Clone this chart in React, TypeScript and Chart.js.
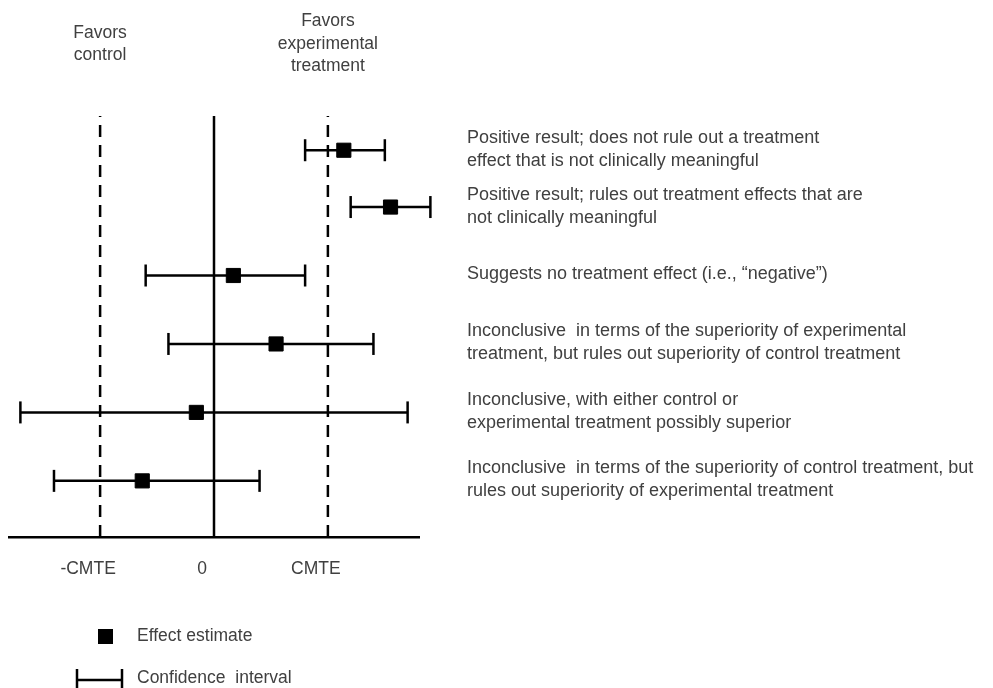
import { useEffect, useRef } from 'react';
import { Chart, registerables } from 'chart.js';

Chart.register(...registerables);

// ---- data ----
const outcomeLabels: string[][] = [
  ['Positive result; does not rule out a treatment', 'effect that is not clinically meaningful'],
  ['Positive result; rules out treatment effects that are', 'not clinically meaningful'],
  ['Suggests no treatment effect (i.e., \u201cnegative\u201d)'],
  ['Inconclusive  in terms of the superiority of experimental', 'treatment, but rules out superiority of control treatment'],
  ['Inconclusive, with either control or', 'experimental treatment possibly superior'],
  ['Inconclusive  in terms of the superiority of control treatment, but', 'rules out superiority of experimental treatment'],
];
const rowLevels = [5.65, 4.82, 3.82, 2.82, 1.82, 0.82];
const estimates = [1.14, 1.55, 0.17, 0.545, -0.155, -0.63];
const ciLower = [0.8, 1.2, -0.6, -0.4, -1.7, -1.405];
const ciUpper = [1.5, 1.9, 0.8, 1.4, 1.7, 0.4];
const tickValues = [-1, 0, 1];
const tickLabels = ['-CMTE', '0', 'CMTE'];
const referenceLines = [-1, 0, 1];
const referenceDashed = [true, false, true];
const favorsAt = [-1, 1];
const favorsLabels: string[][] = [
  ['Favors', 'control'],
  ['Favors', 'experimental', 'treatment'],
];
const legendLabels = ['Effect estimate', 'Confidence  interval'];
const xMin = -1.8;
const xMax = 1.8;
const yTop = 6.15;

const FONT_FAMILY = '"Liberation Sans", Arial, Helvetica, sans-serif';
const FONT_SIZE = 17.5;
const DESC_FONT_SIZE = 18;
const TEXT = '#404040';
const INK = '#000000';

const annotationPlugin = {
  id: 'annotations',
  afterDraw(chart: any) {
    const { ctx, chartArea, scales } = chart;
    const xs = scales.x;
    const ys = scales.y;
    ctx.save();
    ctx.fillStyle = TEXT;
    ctx.textBaseline = 'middle';

    // descriptions on the right
    ctx.font = `${DESC_FONT_SIZE}px ${FONT_FAMILY}`;
    ctx.textAlign = 'left';
    const lh = 23;
    outcomeLabels.forEach((lines, i) => {
      const cy = ys.getPixelForValue(rowLevels[i]) - 1;
      lines.forEach((line, j) => {
        ctx.fillText(line, chartArea.right + 48, cy + (j - (lines.length - 1) / 2) * lh);
      });
    });

    // header labels
    ctx.font = `${FONT_SIZE}px ${FONT_FAMILY}`;
    ctx.textAlign = 'center';
    favorsLabels.forEach((lines, i) => {
      const cx = xs.getPixelForValue(favorsAt[i]);
      const cy = chartArea.top - 72;
      lines.forEach((line, j) => {
        ctx.fillText(line, cx, cy + (j - (lines.length - 1) / 2) * 22.5);
      });
    });

    // legend
    const lx = 137;
    const ly1 = 636;
    const ly2 = 678;
    ctx.fillStyle = INK;
    ctx.fillRect(98, ly1 - 7, 15, 15);
    ctx.strokeStyle = INK;
    ctx.lineWidth = 2.5;
    ctx.beginPath();
    ctx.moveTo(76, 680);
    ctx.lineTo(123, 680);
    ctx.moveTo(77, 669);
    ctx.lineTo(77, 692);
    ctx.moveTo(122, 669);
    ctx.lineTo(122, 692);
    ctx.stroke();
    ctx.fillStyle = TEXT;
    ctx.textAlign = 'left';
    ctx.fillText(legendLabels[0], lx, ly1);
    ctx.fillText(legendLabels[1], lx, ly2);
    ctx.restore();
  },
};

export default function App() {
  const ref = useRef<HTMLCanvasElement | null>(null);

  useEffect(() => {
    if (!ref.current) return;

    const refDatasets = referenceLines.map((v, i) => ({
      type: 'scatter' as const,
      data: [
        { x: v, y: 0 },
        { x: v, y: yTop },
      ],
      showLine: true,
      borderColor: INK,
      borderWidth: 2.5,
      borderDash: referenceDashed[i] ? [12, 8] : [],
      pointRadius: 0,
      clip: false as any,
      order: 3,
    }));

    const ciDatasets = rowLevels.map((r, i) => ({
      type: 'scatter' as const,
      data: [
        { x: ciLower[i], y: r },
        { x: ciUpper[i], y: r },
      ],
      showLine: true,
      borderColor: INK,
      borderWidth: 2.5,
      pointStyle: 'line' as const,
      pointRotation: 90,
      pointRadius: 11,
      pointBorderWidth: 2.5,
      pointBorderColor: INK,
      pointBackgroundColor: INK,
      clip: false as any,
      order: 2,
    }));

    const estimateDataset = {
      type: 'scatter' as const,
      data: rowLevels.map((r, i) => ({ x: estimates[i], y: r })),
      pointStyle: 'rect' as const,
      pointRadius: 10,
      pointBackgroundColor: INK,
      pointBorderColor: INK,
      pointBorderWidth: 1,
      clip: false as any,
      order: 0,
    };

    const chart = new Chart(ref.current, {
      type: 'scatter',
      data: { datasets: [estimateDataset, ...ciDatasets, ...refDatasets] as any },
      options: {
        animation: false,
        responsive: false,
        events: [],
        layout: { autoPadding: false, padding: { left: 9, right: 574, top: 116, bottom: 86 } },
        plugins: {
          legend: { display: false },
          tooltip: { enabled: false },
        },
        scales: {
          x: {
            type: 'linear',
            min: xMin,
            max: xMax,
            afterBuildTicks: (scale: any) => {
              scale.ticks = tickValues.map((v) => ({ value: v }));
            },
            grid: { display: false, drawTicks: false },
            border: { display: true, color: INK, width: 2.5 },
            ticks: {
              padding: 22,
              labelOffset: -12,
              color: TEXT,
              font: { family: FONT_FAMILY, size: FONT_SIZE },
              maxRotation: 0,
              autoSkip: false,
              callback: (value: any) => {
                const idx = tickValues.indexOf(Number(value));
                return idx >= 0 ? tickLabels[idx] : '';
              },
            },
          },
          y: {
            type: 'linear',
            display: false,
            min: 0,
            max: yTop,
          },
        },
      } as any,
      plugins: [annotationPlugin],
    });

    return () => chart.destroy();
  }, []);

  return (
    <div style={{ position: 'fixed', left: 0, top: 0, width: 993, height: 688, background: '#ffffff' }}>
      <canvas ref={ref} width={993} height={688} style={{ display: 'block' }} />
    </div>
  );
}
